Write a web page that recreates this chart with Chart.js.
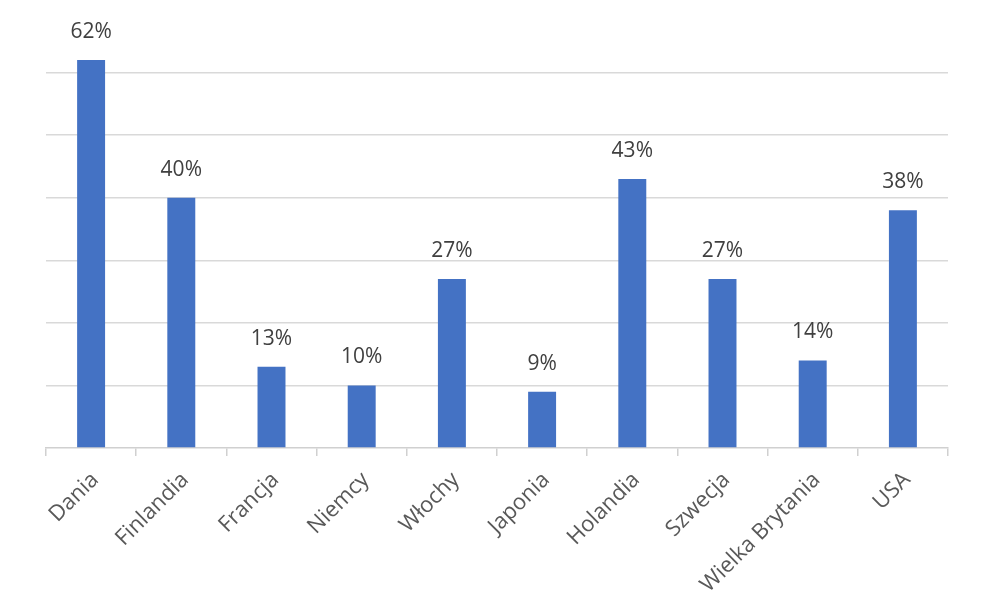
<!DOCTYPE html>
<html>
<head>
<meta charset="utf-8">
<script src="https://cdn.jsdelivr.net/npm/chart.js@4/dist/chart.umd.min.js"></script>
<style>
  html, body { margin: 0; padding: 0; background: #fff; }
  #wrap { width: 1000px; height: 597px; }
</style>
</head>
<body>
<div id="wrap"><canvas id="chart"></canvas></div>
<script>
// dane
const countries = ['Dania', 'Finlandia', 'Francja', 'Niemcy', 'Włochy', 'Japonia', 'Holandia', 'Szwecja', 'Wielka Brytania', 'USA'];
const shares = [62, 40, 13, 10, 27, 9, 43, 27, 14, 38];
const yTicks = [0, 10, 20, 30, 40, 50, 60, 70];

// etykiety nad słupkami
const valueLabels = {
    id: 'valueLabels',
    afterDatasetsDraw(chart) {
        const ctx = chart.ctx;
        const meta = chart.getDatasetMeta(0);
        ctx.save();
        ctx.fillStyle = '#404040';
        ctx.font = '21px "Open Sans", sans-serif';
        ctx.textAlign = 'center';
        ctx.textBaseline = 'middle';
        meta.data.forEach(function(bar, i) {
            ctx.fillText(shares[i] + '%', bar.x, bar.y - 28);
        });
        ctx.restore();
    }
};

new Chart(document.getElementById('chart'), {
    type: 'bar',
    data: {
        labels: countries,
        datasets: [{
            data: shares,
            backgroundColor: '#4472C4',
            categoryPercentage: 1,
            barPercentage: 0.31
        }]
    },
    options: {
        responsive: true,
        maintainAspectRatio: false,
        animation: false,
        layout: { padding: { left: 46, right: 52, top: 10, bottom: 0 } },
        plugins: {
            legend: { display: false },
            tooltip: { enabled: false }
        },
        scales: {
            x: {
                offset: true,
                grid: {
                    offset: true,
                    drawOnChartArea: false,
                    drawTicks: true,
                    tickLength: 8,
                    color: '#d0d0d0',
                    lineWidth: 1.5
                },
                border: { color: '#d0d0d0', width: 1.5 },
                ticks: {
                    color: '#595959',
                    font: { family: '"Open Sans", sans-serif', size: 22 },
                    minRotation: 45,
                    maxRotation: 45,
                    padding: 11,
                    labelOffset: 4
                },
                afterFit(axis) { axis.height = 149; }
            },
            y: {
                min: 0,
                max: 70,
                afterBuildTicks(axis) {
                    axis.ticks = yTicks.map(v => ({ value: v }));
                },
                ticks: { display: false },
                border: { display: false },
                grid: {
                    drawTicks: false,
                    color: c => (c.tick.value === 0 || c.tick.value === 70) ? 'rgba(0,0,0,0)' : '#d9d9d9',
                    lineWidth: 1.5
                },
                afterFit(axis) { axis.width = 0; }
            }
        }
    },
    plugins: [valueLabels]
});
</script>
</body>
</html>
